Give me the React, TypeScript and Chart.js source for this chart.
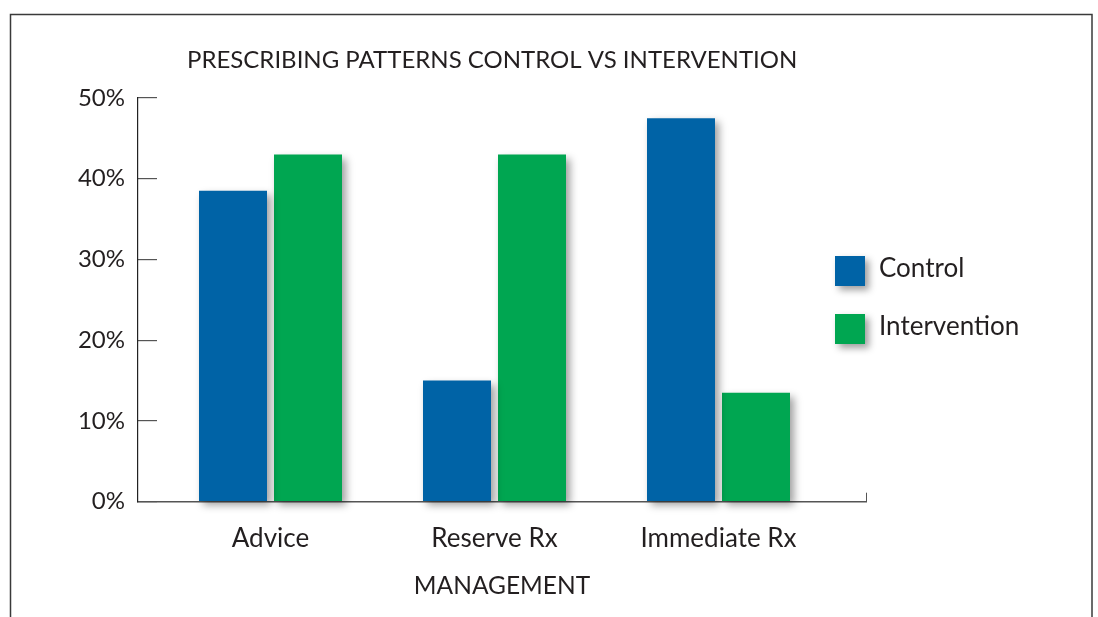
import React, { useEffect, useRef } from "react";
import { Chart, registerables } from "chart.js";

Chart.register(...registerables);

const categories = ["Advice", "Reserve Rx", "Immediate Rx"];
const controlValues = [38.5, 15, 47.5];
const interventionValues = [43, 43, 13.5];
const yTickValues = [0, 10, 20, 30, 40, 50];
const seriesNames = ["Control", "Intervention"];
const seriesColors = ["#0063a6", "#00a651"];
const chartTitle = "PRESCRIBING PATTERNS CONTROL VS INTERVENTION";
const xAxisTitle = "MANAGEMENT";

const FONT = "Lato";
const TEXT = "#231f20";

const framePlugin = {
  id: "frame",
  beforeDraw(chart: any) {
    const ctx = chart.ctx;
    ctx.save();
    ctx.fillStyle = "#ffffff";
    ctx.fillRect(0, 0, chart.width, chart.height);
    ctx.strokeStyle = "#3a3a3a";
    ctx.lineWidth = 1.5;
    ctx.strokeRect(10.5, 14.5, 1081.5, 700);
    ctx.restore();
  },
};

const titlePlugin = {
  id: "leftTitle",
  afterDraw(chart: any) {
    const ctx = chart.ctx;
    const a = chart.chartArea;
    ctx.save();
    ctx.font = `24px ${FONT}`;
    ctx.fillStyle = TEXT;
    ctx.textAlign = "left";
    ctx.textBaseline = "alphabetic";
    ctx.fillText(chartTitle, a.left + 49, 68);
    ctx.restore();
  },
};

const axisEndPlugin = {
  id: "axisEnd",
  afterDraw(chart: any) {
    const ctx = chart.ctx;
    const a = chart.chartArea;
    ctx.save();
    ctx.strokeStyle = "#555555";
    ctx.lineWidth = 1;
    ctx.beginPath();
    ctx.moveTo(Math.round(a.right) + 0.5, a.bottom - 9);
    ctx.lineTo(Math.round(a.right) + 0.5, a.bottom);
    ctx.stroke();
    ctx.restore();
  },
};

const shadowPlugin = {
  id: "barShadow",
  beforeDatasetsDraw(chart: any) {
    const ctx = chart.ctx;
    ctx.save();
    ctx.shadowColor = "rgba(0,0,0,0.38)";
    ctx.shadowOffsetX = 4;
    ctx.shadowOffsetY = 4;
    ctx.shadowBlur = 8;
  },
  afterDatasetsDraw(chart: any) {
    chart.ctx.restore();
  },
};

const legendPlugin = {
  id: "sideLegend",
  afterDraw(chart: any) {
    const ctx = chart.ctx;
    const a = chart.chartArea;
    const x0 = a.right - 31;
    const y0 = a.top + 158;
    chart.data.datasets.forEach((ds: any, i: number) => {
      const y = y0 + i * 58;
      ctx.save();
      ctx.shadowColor = "rgba(0,0,0,0.38)";
      ctx.shadowOffsetX = 4;
      ctx.shadowOffsetY = 4;
      ctx.shadowBlur = 7;
      ctx.fillStyle = ds.backgroundColor;
      ctx.fillRect(x0, y, 30, 30);
      ctx.restore();
      ctx.save();
      ctx.font = `26px ${FONT}`;
      ctx.fillStyle = TEXT;
      ctx.textAlign = "left";
      ctx.textBaseline = "alphabetic";
      ctx.fillText(ds.label, x0 + 44, y + 21);
      ctx.restore();
    });
  },
};

export default function App() {
  const ref = useRef<HTMLCanvasElement | null>(null);

  useEffect(() => {
    if (!ref.current) return;
    const chart = new Chart(ref.current, {
      type: "bar",
      data: {
        labels: categories,
        datasets: [
          {
            label: seriesNames[0],
            data: controlValues,
            backgroundColor: seriesColors[0],
            borderWidth: 0,
            clip: false as any,
          },
          {
            label: seriesNames[1],
            data: interventionValues,
            backgroundColor: seriesColors[1],
            borderWidth: 0,
            clip: false as any,
          },
        ],
      },
      options: {
        responsive: false,
        animation: false,
        events: [],
        layout: { padding: { top: 98, right: 232, left: 0, bottom: 0 } },
        datasets: {
          bar: { categoryPercentage: 150 / 224, barPercentage: 68 / 75 },
        },
        plugins: {
          legend: { display: false },
          title: { display: false },
          tooltip: { enabled: false },
        },
        scales: {
          x: {
            type: "category",
            offset: true,
            grid: { display: false, drawTicks: false, tickLength: 0 },
            border: { display: true, color: "#555555", width: 1.5 },
            ticks: {
              color: TEXT,
              font: { family: FONT, size: 26 },
              padding: 21,
              maxRotation: 0,
            },
            title: {
              display: true,
              text: xAxisTitle,
              color: TEXT,
              font: { family: FONT, size: 24.5 },
              padding: { top: 0, bottom: 16 },
            },
            afterFit: (scale: any) => {
              scale.height = 115.3;
            },
            afterBuildTicks: (scale: any) => {
              scale._startValue = -132.5 / 224;
              scale._valueRange = 728 / 224;
            },
          },
          y: {
            type: "linear",
            min: 0,
            max: 50,
            grid: {
              display: true,
              drawOnChartArea: false,
              drawTicks: true,
              tickLength: -19,
              color: "#555555",
              lineWidth: 1.2,
            },
            border: { display: true, color: "#222222", width: 1.2 },
            ticks: {
              color: TEXT,
              font: { family: FONT, size: 24 },
              padding: 32,
              callback: (v: any) => `${v}%`,
            },
            afterBuildTicks: (scale: any) => {
              scale.ticks = yTickValues.map((v) => ({ value: v }));
            },
            afterFit: (scale: any) => {
              scale.width = 138;
            },
          },
        },
      },
      plugins: [framePlugin, shadowPlugin, titlePlugin, axisEndPlugin, legendPlugin],
    });
    return () => chart.destroy();
  }, []);

  return (
    <div
      style={{
        position: "fixed",
        left: 0,
        top: 0,
        width: 1098,
        height: 617,
        overflow: "hidden",
        background: "#fff",
      }}
    >
      <canvas ref={ref} width={1098} height={617} style={{ display: "block" }} />
    </div>
  );
}
